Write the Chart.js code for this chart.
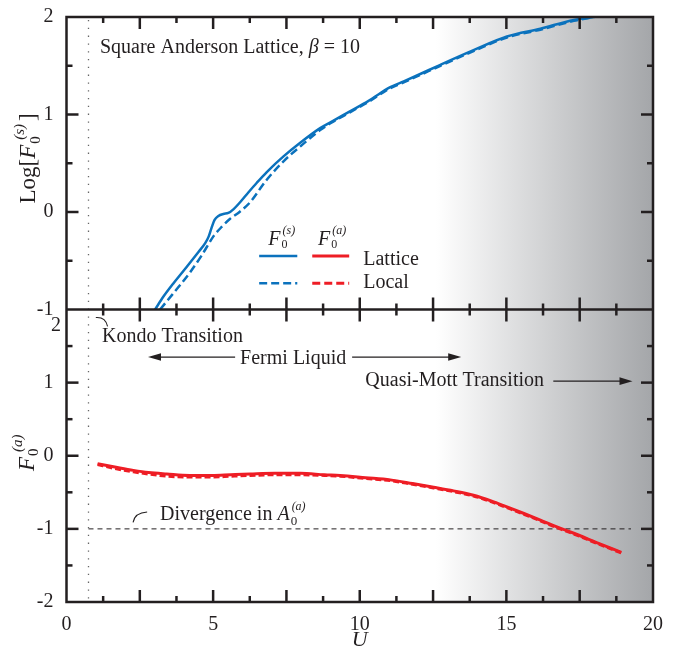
<!DOCTYPE html>
<html>
<head>
<meta charset="utf-8">
<script src="https://cdn.jsdelivr.net/npm/chart.js@4.4.1/dist/chart.umd.min.js"></script>
<style>
  html, body { margin: 0; padding: 0; background: #fff; }
  #wrap { width: 688px; height: 650px; }
</style>
</head>
<body>
<div id="wrap"><canvas id="chart" width="688" height="650"></canvas></div>
<script>
// values (U on x)
const uSymLattice = [3.02, 3.3, 3.65, 4.0, 4.21, 4.5, 4.73, 4.85, 4.96, 5.05, 5.18, 5.35, 5.52, 5.7, 5.92, 6.2, 6.49, 6.83, 7.4, 7.97, 8.65, 9.0, 9.65, 10.3, 11.04, 11.5, 11.95, 12.75, 13.88, 15.02, 16.16, 17.3, 17.97];
const logSymLattice = [-1.0, -0.87, -0.73, -0.6, -0.52, -0.41, -0.32, -0.25, -0.15, -0.08, -0.04, -0.02, -0.01, 0.03, 0.1, 0.2, 0.3, 0.41, 0.57, 0.71, 0.86, 0.92, 1.03, 1.14, 1.28, 1.34, 1.4, 1.51, 1.66, 1.8, 1.88, 1.97, 2.0];
const uSymLocal = [3.19, 3.6, 4.21, 4.6, 5.01, 5.3, 5.58, 5.9, 6.26, 6.8, 7.4, 8.0, 8.65, 9.0, 9.65, 10.3, 11.04, 11.5, 11.95, 12.75, 13.88, 15.02, 16.16, 17.3, 18.0];
const logSymLocal = [-1.0, -0.85, -0.62, -0.45, -0.25, -0.15, -0.07, 0.0, 0.1, 0.32, 0.52, 0.68, 0.84, 0.91, 1.02, 1.13, 1.27, 1.33, 1.39, 1.5, 1.65, 1.79, 1.87, 1.96, 2.0];
const uAsym = [1.06, 1.6, 2.28, 2.8, 3.42, 4.2, 4.97, 5.6, 6.26, 7.1, 7.97, 8.8, 9.33, 10.2, 11.04, 11.8, 12.52, 13.2, 13.88, 14.5, 15.02, 15.6, 16.16, 16.7, 17.3, 18.1, 18.92];
const fAsymLattice = [-0.11, -0.15, -0.2, -0.23, -0.25, -0.27, -0.27, -0.26, -0.25, -0.24, -0.24, -0.26, -0.27, -0.3, -0.33, -0.38, -0.43, -0.48, -0.54, -0.62, -0.7, -0.79, -0.88, -0.97, -1.06, -1.19, -1.32];
const fAsymLocal = [-0.12, -0.17, -0.22, -0.25, -0.28, -0.29, -0.29, -0.28, -0.27, -0.26, -0.26, -0.27, -0.28, -0.31, -0.34, -0.39, -0.44, -0.49, -0.55, -0.63, -0.71, -0.8, -0.89, -0.98, -1.07, -1.2, -1.33];
const divergenceU = [0.75, 19.25];
const divergenceF = [-1, -1];
const xTickLabels = [0, 5, 10, 15, 20];
const topTickLabels = [-1, 0, 1, 2];
const bottomTickLabels = [-2, -1, 0, 1, 2];
const kondoU = 0.75;
const mottStartU = 12.6;

const INK = '#231f20';
const BLUE = '#0b72bd';
const RED = '#ee1d25';
const SERIF = '"Liberation Serif", "Times New Roman", serif';

function pts(xs, ys) { return xs.map((x, i) => ({ x: x, y: ys[i] })); }

function seg(ctx, x1, y1, x2, y2) {
  ctx.beginPath(); ctx.moveTo(x1, y1); ctx.lineTo(x2, y2); ctx.stroke();
}

function arrow(ctx, x1, y, x2) {
  const dir = Math.sign(x2 - x1);
  ctx.lineWidth = 1.3;
  seg(ctx, x1, y, x2 - dir * 10, y);
  ctx.beginPath();
  ctx.moveTo(x2, y);
  ctx.lineTo(x2 - dir * 13, y - 3.8);
  ctx.lineTo(x2 - dir * 13, y + 3.8);
  ctx.closePath(); ctx.fill();
}

function setFont(ctx, p) {
  ctx.font = (p.italic ? 'italic ' : '') + (p.size || 20) + 'px ' + SERIF;
}

// text with sub/superscripts, "over" puts a part at the same x as the previous one
function drawRich(ctx, x, y, parts, align) {
  let cur = 0, prev = 0;
  const placed = parts.map(p => {
    setFont(ctx, p);
    const w = ctx.measureText(p.t).width;
    let sx;
    if (p.over) { sx = prev + (p.dx || 0); cur = Math.max(cur, sx + w); }
    else { sx = cur + (p.dx || 0); cur = sx + w; }
    prev = p.over ? prev : sx;
    return { p, sx };
  });
  const start = align === 'center' ? x - cur / 2 : x;
  placed.forEach(({ p, sx }) => {
    setFont(ctx, p);
    ctx.fillText(p.t, start + sx, y + (p.dy || 0));
  });
}

const decor = {
  id: 'decor',
  beforeDatasetsDraw(chart) {
    const { ctx, chartArea: a } = chart;
    const x = chart.scales.x;
    ctx.save();
    const x0 = x.getPixelForValue(mottStartU), x1 = x.getPixelForValue(20);
    const g = ctx.createLinearGradient(x0, 0, x1, 0);
    g.addColorStop(0, '#ffffff');
    g.addColorStop(1, '#a4a6a9');
    ctx.fillStyle = g;
    ctx.fillRect(x0, a.top, x1 - x0, a.bottom - a.top);
    const kx = x.getPixelForValue(kondoU);
    ctx.strokeStyle = '#666';
    ctx.lineWidth = 1.3;
    ctx.setLineDash([1.3, 6.5]);
    seg(ctx, kx, a.top + 3, kx, a.bottom);
    ctx.restore();
  },
  afterDatasetsDraw(chart) {
    const { ctx, chartArea: a } = chart;
    const x = chart.scales.x, yt = chart.scales.y, yb = chart.scales.y2;
    const px = u => x.getPixelForValue(u);
    ctx.save();
    ctx.strokeStyle = INK;
    ctx.fillStyle = INK;
    ctx.lineWidth = 2.5;
    ctx.strokeRect(a.left, a.top, a.right - a.left, a.bottom - a.top);
    const mid = yt.bottom;
    seg(ctx, a.left, mid, a.right, mid);

    // inward ticks
    for (let i = 1; i < 16; i++) {
      const p = px(i * 1.25), L = i % 2 === 0 ? 12 : 6;
      seg(ctx, p, a.top, p, a.top + L);
      seg(ctx, p, mid - L, p, mid + L);
      seg(ctx, p, a.bottom - L, p, a.bottom);
    }
    [[yt, -1, 2], [yb, -2, 2]].forEach(([s, lo, hi]) => {
      for (let v = lo + 0.5; v < hi; v += 0.5) {
        const p = s.getPixelForValue(v), L = Number.isInteger(v) ? 12 : 6;
        seg(ctx, a.left, p, a.left + L, p);
        seg(ctx, a.right - L, p, a.right, p);
      }
    });

    ctx.textBaseline = 'alphabetic';
    ctx.textAlign = 'left';

    // bottom panel "2" sits below the shared edge
    setFont(ctx, {});
    ctx.textAlign = 'right';
    ctx.fillText('2', a.left - 5.5, yb.getPixelForValue(2) + 21);
    ctx.textAlign = 'left';

    drawRich(ctx, px(1.14), yt.getPixelForValue(1.63), [{ t: 'Square Anderson Lattice, ' }, { t: 'β', italic: true }, { t: ' = 10' }]);
    drawRich(ctx, px(1.21), yb.getPixelForValue(1.55), [{ t: 'Kondo Transition' }]);
    drawRich(ctx, px(5.92), yb.getPixelForValue(1.25), [{ t: 'Fermi Liquid' }]);
    drawRich(ctx, px(10.19), yb.getPixelForValue(0.95), [{ t: 'Quasi-Mott Transition' }]);
    drawRich(ctx, px(3.19), yb.getPixelForValue(-0.885), [
      { t: 'Divergence in ' }, { t: 'A', italic: true },
      { t: '0', size: 13, dy: 5, dx: 1 }, { t: '(a)', size: 12, italic: true, dy: -10, over: true, dx: 1 }
    ]);

    const yFL = yb.getPixelForValue(1.35), yQM = yb.getPixelForValue(1.02);
    arrow(ctx, px(5.75), yFL, px(2.78));
    arrow(ctx, px(9.74), yFL, px(13.46));
    arrow(ctx, px(16.6), yQM, px(19.3));

    // curved leaders
    ctx.lineWidth = 1.1;
    ctx.beginPath();
    ctx.moveTo(px(1.0), yb.getPixelForValue(1.89));
    ctx.quadraticCurveTo(px(1.33), yb.getPixelForValue(1.9), px(1.4), yb.getPixelForValue(1.77));
    ctx.stroke();
    ctx.beginPath();
    ctx.moveTo(px(2.27), yb.getPixelForValue(-0.91));
    ctx.quadraticCurveTo(px(2.33), yb.getPixelForValue(-0.78), px(2.75), yb.getPixelForValue(-0.77));
    ctx.stroke();

    // legend
    const hdr = yt.getPixelForValue(-0.34);
    [[6.88, '(s)'], [8.58, '(a)']].forEach(([u, s]) => {
      drawRich(ctx, px(u), hdr, [{ t: 'F', italic: true }, { t: '0', size: 12, dy: 3, dx: 1 }, { t: s, size: 12, italic: true, dy: -11, over: true, dx: 1 }]);
    });
    const rows = [[-0.45, -0.54, [], 'Lattice'], [-0.73, -0.78, [8, 4], 'Local']];
    rows.forEach(([ly, ty, dash, label]) => {
      const p = yt.getPixelForValue(ly);
      ctx.setLineDash(dash);
      ctx.lineWidth = 2.5; ctx.strokeStyle = BLUE;
      seg(ctx, px(6.57), p, px(7.87), p);
      ctx.lineWidth = 3; ctx.strokeStyle = RED;
      seg(ctx, px(8.38), p, px(9.64), p);
      ctx.setLineDash([]);
      drawRich(ctx, px(10.12), yt.getPixelForValue(ty), [{ t: label }]);
    });
    ctx.strokeStyle = INK;

    // axis titles
    ctx.save();
    ctx.translate(35, yt.getPixelForValue(0.55));
    ctx.rotate(-Math.PI / 2);
    drawRich(ctx, 0, 0, [{ t: 'Log[', size: 23 }, { t: 'F', italic: true, size: 23 },
      { t: '0', size: 15, dy: 5, dx: 1 }, { t: '(s)', size: 15, italic: true, dy: -11, over: true, dx: 4 }, { t: ']', size: 23, dx: 3 }], 'center');
    ctx.restore();
    ctx.save();
    ctx.translate(34, yb.getPixelForValue(0.04));
    ctx.rotate(-Math.PI / 2);
    drawRich(ctx, 0, 0, [{ t: 'F', italic: true, size: 23 }, { t: '0', size: 15, dy: 4, dx: 1 }, { t: '(a)', size: 15, italic: true, dy: -12, over: true, dx: 4 }], 'center');
    ctx.restore();
    setFont(ctx, { italic: true, size: 22 });
    ctx.textAlign = 'center';
    ctx.fillText('U', px(10), 646);
    ctx.restore();
  }
};

const tickFont = { family: SERIF, size: 20 };

new Chart(document.getElementById('chart'), {
  type: 'line',
  data: {
    datasets: [
      { data: pts(uSymLattice, logSymLattice), yAxisID: 'y', borderColor: BLUE, borderWidth: 2.5, order: 0 },
      { data: pts(uSymLocal, logSymLocal), yAxisID: 'y', borderColor: BLUE, borderWidth: 2.5, borderDash: [8, 4], order: 1 },
      { data: pts(uAsym, fAsymLattice), yAxisID: 'y2', borderColor: RED, borderWidth: 3, order: 0 },
      { data: pts(uAsym, fAsymLocal), yAxisID: 'y2', borderColor: RED, borderWidth: 3, borderDash: [6, 3], order: 1 },
      { data: pts(divergenceU, divergenceF), yAxisID: 'y2', borderColor: INK, borderWidth: 1, borderDash: [5, 4], tension: 0, order: 2 }
    ]
  },
  options: {
    responsive: false,
    animation: false,
    devicePixelRatio: 1,
    layout: { padding: { top: 13, right: 35, left: 0, bottom: 0 } },
    elements: { point: { radius: 0 }, line: { tension: 0.4, cubicInterpolationMode: 'monotone', fill: false } },
    plugins: { legend: { display: false }, tooltip: { enabled: false } },
    scales: {
      x: {
        type: 'linear', min: 0, max: 20,
        grid: { display: false }, border: { display: false },
        afterBuildTicks: s => { s.ticks = xTickLabels.map(v => ({ value: v })); },
        afterFit: s => { s.height = 48; },
        ticks: { color: INK, font: tickFont, padding: 3, maxRotation: 0, callback: v => String(v) }
      },
      y: {
        type: 'linear', min: -1, max: 2, position: 'left', stack: 'panels', stackWeight: 1, weight: 2,
        grid: { display: false }, border: { display: false },
        afterBuildTicks: s => { s.ticks = topTickLabels.map(v => ({ value: v })); },
        afterFit: s => { s.width = 66.5; },
        ticks: { color: INK, font: tickFont, padding: 5, callback: v => String(v) }
      },
      y2: {
        type: 'linear', min: -2, max: 2, position: 'left', stack: 'panels', stackWeight: 1, weight: 1,
        grid: { display: false }, border: { display: false },
        afterBuildTicks: s => { s.ticks = bottomTickLabels.map(v => ({ value: v })); },
        afterFit: s => { s.width = 66.5; },
        ticks: { color: INK, font: tickFont, padding: 5, callback: v => (v === 2 ? '' : String(v)) }
      }
    }
  },
  plugins: [decor]
});
</script>
</body>
</html>
